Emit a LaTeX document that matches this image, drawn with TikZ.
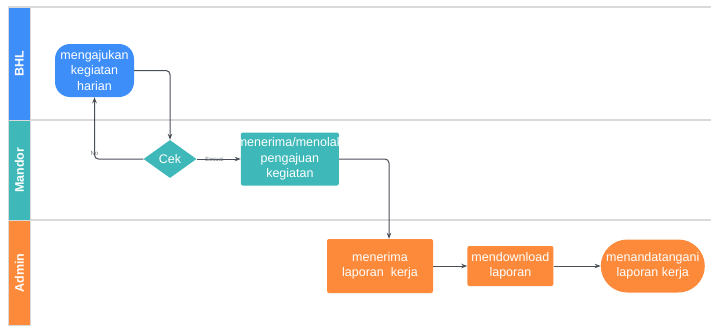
\documentclass[tikz,border=0pt]{standalone}
\usepackage{fontspec}
\setmainfont{Liberation Sans}
\usepackage{xcolor}
\usetikzlibrary{arrows.meta,positioning,shapes.geometric,shapes.misc}
\definecolor{bhlblue}{HTML}{3D8EF8}
\definecolor{mandorteal}{HTML}{3EB8B8}
\definecolor{adminorange}{HTML}{FD8A3A}
\definecolor{laneline}{HTML}{D9D9D9}
\definecolor{flowline}{HTML}{4A4F57}
\tikzset{
  lhead/.style={draw=laneline, line width=0.8pt, minimum width=22pt, inner sep=0pt, anchor=north west, font=\bfseries\fontsize{12}{14}\selectfont, text=white},
  lsep/.style={draw=laneline, line width=1.2pt},
  fterm/.style={rounded rectangle, align=center, text=white, inner sep=0pt, font=\fontsize{12.5}{15.5}\selectfont},
  fbox/.style={rectangle, rounded corners=2pt, align=center, text=white, inner sep=0pt, font=\fontsize{12.5}{15.5}\selectfont},
  fcheck/.style={diamond, aspect=1.45, minimum width=53pt, minimum height=38pt, inner sep=0pt, text=white, font=\fontsize{12.5}{15}\selectfont},
  farrow/.style={-{Stealth[length=6pt,width=4.5pt]}, draw=flowline, line width=1pt, rounded corners=4pt},
  flabel/.style={font=\fontsize{6}{7}\selectfont, text=flowline!80, inner sep=1pt}
}
\begin{document}
\begin{tikzpicture}[x=1pt, y=-1pt]
\useasboundingbox (0,0) rectangle (711,325);

% swimlanes
\draw[lsep] (8,7) -- (711,7);
\draw[lsep] (30,120) -- (711,120);
\draw[lsep] (30,220) -- (711,220);
\node[lhead, fill=bhlblue, minimum height=113pt] (lbhl) at (8,7) {};
\node[lhead, fill=mandorteal, minimum height=100pt] (lmandor) at (8,120) {};
\node[lhead, fill=adminorange, minimum height=105pt] (ladmin) at (8,220) {};
\node[rotate=90, text=white, font=\bfseries\fontsize{12.5}{14}\selectfont] at (lbhl.center) {BHL};
\node[rotate=90, text=white, font=\bfseries\fontsize{12.5}{14}\selectfont] at (lmandor.center) {Mandor};
\node[rotate=90, text=white, font=\bfseries\fontsize{12.5}{14}\selectfont] at (ladmin.center) {Admin};

% steps
\node[fbox, rounded corners=15pt, fill=bhlblue, minimum width=79pt, minimum height=53pt] (ajukan) at (94.5,70.5) {mengajukan\\kegiatan\\harian};
\node[fcheck, fill=mandorteal] (cek) at (170,159) {Cek};
\node[fbox, fill=mandorteal, minimum width=98pt, minimum height=53pt, text width=92pt, right=44pt of cek] (terima) {\makebox[92pt][c]{menerima/menolak}\\pengajuan\\kegiatan};
\node[fbox, fill=adminorange, minimum width=106pt, minimum height=54pt] (laporan) at (380,266) {menerima\\laporan~ kerja};
\node[fbox, fill=adminorange, minimum width=86pt, minimum height=40pt, right=34pt of laporan] (unduh) {mendownload\\laporan};
\node[fterm, fill=adminorange, minimum width=104pt, minimum height=53pt, right=47pt of unduh] (tanda) {menandatangani\\laporan kerja};

% connectors
\draw[farrow] (ajukan.east) -| (cek.north);
\draw[farrow] (cek.west) -| node[flabel, pos=0.5, above=2pt] {No} (ajukan.south);
\draw[farrow] (cek.east) -- node[flabel, pos=0.4] {Sesuai} (terima.west);
\draw[farrow] (terima.east) -| ([xshift=9pt]laporan.north);
\draw[farrow] (laporan) -- (unduh);
\draw[farrow] (unduh) -- (tanda);
\end{tikzpicture}
\end{document}
